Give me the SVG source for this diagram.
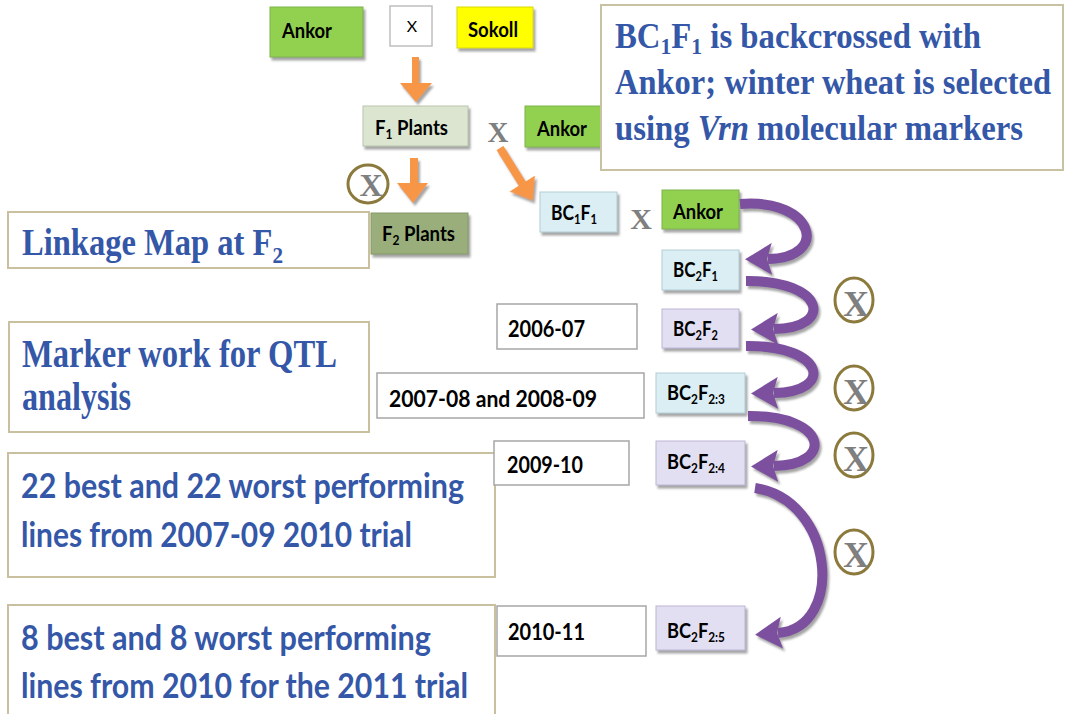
<svg xmlns="http://www.w3.org/2000/svg" width="1065" height="714" viewBox="0 0 1065 714">
<style>
  .lbl{font-family:Lato,"Liberation Sans",sans-serif;font-weight:700;font-size:20px;fill:#000}
  .yr{font-family:Lato,"Liberation Sans",sans-serif;font-weight:700;font-size:23px;fill:#000}
  .ser{font-family:"Liberation Serif","Times New Roman",serif;font-weight:700;fill:#3457a8}
  .cal{font-family:Lato,"Liberation Sans",sans-serif;font-weight:700;font-size:34px;fill:#3457a8}
  .xg{font-family:"Liberation Serif","Times New Roman",serif;font-weight:700;fill:#7f7f7f;text-anchor:middle}
  .sub{font-size:13px}
  .green{fill:#92d050;stroke:#7fb34a;stroke-width:1}
  .yellow{fill:#ffff00;stroke:#d8d800;stroke-width:1}
  .f1{fill:#dbe5d0;stroke:#b9c6ad;stroke-width:1}
  .f2{fill:#9aae7b;stroke:#869a68;stroke-width:1}
  .blue{fill:#daeef3;stroke:#b3cdd6;stroke-width:1}
  .lav{fill:#e3dff2;stroke:#bdb6d6;stroke-width:1}
  .year{fill:#fff;stroke:#a6a6a6;stroke-width:1.5}
  .tbox{fill:#fff;stroke:#c8c09e;stroke-width:2}
  .sh{filter:url(#shadow)}
  .circ{fill:#fff;stroke:#8c7a3c;stroke-width:3}
  .orange{fill:#f79646}
  .purple{fill:none;stroke:#7d509f;stroke-width:10;marker-end:url(#ph)}
</style>
<defs>
  <filter id="shadow" x="-10%" y="-10%" width="130%" height="140%">
    <feDropShadow dx="2" dy="3" stdDeviation="1" flood-color="#7f7f7f" flood-opacity="0.7"/>
  </filter>
  <marker id="ph" markerUnits="userSpaceOnUse" markerWidth="27" markerHeight="32" viewBox="0 0 27 32" refX="4" refY="16" orient="auto">
    <path d="M0,0 L27,16 L0,32 L5,16 z" fill="#7d509f"/>
  </marker>
</defs>

<g id="node-ankor1">
  <rect class="green sh" x="270" y="7" width="93" height="50"/>
  <text class="lbl" x="282" y="38" textLength="50" lengthAdjust="spacingAndGlyphs">Ankor</text>
</g>
<g id="node-x-top">
  <rect x="390" y="6" width="42" height="40" fill="#fff" stroke="#bfbfbf" stroke-width="1.5"/>
  <text x="412" y="32" font-family="Lato,'Liberation Sans',sans-serif" font-size="16" text-anchor="middle" fill="#000">X</text>
</g>
<g id="node-sokoll">
  <rect class="yellow sh" x="457" y="7" width="76" height="41"/>
  <text class="lbl" x="468" y="37" textLength="50" lengthAdjust="spacingAndGlyphs">Sokoll</text>
</g>
<g id="node-f1">
  <rect class="f1 sh" x="363" y="106" width="105" height="40"/>
  <text class="lbl" x="375" y="135" textLength="73" lengthAdjust="spacingAndGlyphs">F<tspan class="sub" dy="4">1</tspan><tspan dy="-4"> Plants</tspan></text>
</g>
<g id="label-x-f1">
  <text class="xg" x="498" y="142" font-size="29">X</text>
</g>
<g id="node-ankor2">
  <rect class="green sh" x="525" y="106" width="82" height="41"/>
  <text class="lbl" x="537" y="136" textLength="50" lengthAdjust="spacingAndGlyphs">Ankor</text>
</g>
<g id="callout">
  <rect x="601" y="5" width="462" height="165" fill="#fff" stroke="#c9c2a2" stroke-width="2"/>
  <text class="ser" x="615" y="48" font-size="35" textLength="366" lengthAdjust="spacingAndGlyphs">BC<tspan font-size="23" dy="6">1</tspan><tspan dy="-6">F</tspan><tspan font-size="23" dy="6">1</tspan><tspan dy="-6"> is backcrossed with</tspan></text>
  <text class="ser" x="615" y="94" font-size="35" textLength="436" lengthAdjust="spacingAndGlyphs">Ankor; winter wheat is selected</text>
  <text class="ser" x="615" y="140" font-size="35" textLength="408" lengthAdjust="spacingAndGlyphs">using <tspan font-style="italic">Vrn</tspan> molecular markers</text>
</g>
<g id="node-self-f1">
  <ellipse class="circ" cx="368" cy="184" rx="20" ry="19"/>
  <text class="xg" x="371" y="196" font-size="32">X</text>
</g>
<g id="node-linkage">
  <rect class="tbox" x="8" y="212" width="361" height="56"/>
  <text class="ser" x="22" y="255" font-size="37" textLength="261" lengthAdjust="spacingAndGlyphs">Linkage Map at F<tspan font-size="24" dy="8">2</tspan></text>
</g>
<g id="node-f2">
  <rect class="f2 sh" x="371" y="213" width="97" height="41"/>
  <text class="lbl" x="382" y="241" textLength="73" lengthAdjust="spacingAndGlyphs">F<tspan class="sub" dy="4">2</tspan><tspan dy="-4"> Plants</tspan></text>
</g>
<g id="node-bc1f1">
  <rect class="blue sh" x="540" y="192" width="77" height="40"/>
  <text class="lbl" x="551" y="220" textLength="46" lengthAdjust="spacingAndGlyphs">BC<tspan class="sub" dy="4">1</tspan><tspan dy="-4">F</tspan><tspan class="sub" dy="4">1</tspan></text>
</g>
<g id="label-x-bc1f1">
  <text class="xg" x="641" y="229" font-size="30">X</text>
</g>
<g id="node-ankor3">
  <rect class="green sh" x="662" y="190" width="77" height="39"/>
  <text class="lbl" x="673" y="219" textLength="50" lengthAdjust="spacingAndGlyphs">Ankor</text>
</g>
<g id="node-bc2f1">
  <rect class="blue sh" x="662" y="250" width="77" height="40"/>
  <text class="lbl" x="673" y="277" textLength="45" lengthAdjust="spacingAndGlyphs">BC<tspan class="sub" dy="4">2</tspan><tspan dy="-4">F</tspan><tspan class="sub" dy="4">1</tspan></text>
</g>
<g id="node-bc2f2">
  <rect class="lav sh" x="662" y="309" width="77" height="39"/>
  <text class="lbl" x="673" y="336" textLength="45" lengthAdjust="spacingAndGlyphs">BC<tspan class="sub" dy="4">2</tspan><tspan dy="-4">F</tspan><tspan class="sub" dy="4">2</tspan></text>
</g>
<g id="node-bc2f23">
  <rect class="blue sh" x="656" y="373" width="89" height="40"/>
  <text class="lbl" x="667" y="400" textLength="58" lengthAdjust="spacingAndGlyphs">BC<tspan class="sub" dy="4">2</tspan><tspan dy="-4">F</tspan><tspan class="sub" dy="4">2:3</tspan></text>
</g>
<g id="node-bc2f24">
  <rect class="lav sh" x="656" y="441" width="89" height="44"/>
  <text class="lbl" x="667" y="469" textLength="58" lengthAdjust="spacingAndGlyphs">BC<tspan class="sub" dy="4">2</tspan><tspan dy="-4">F</tspan><tspan class="sub" dy="4">2:4</tspan></text>
</g>
<g id="node-bc2f25">
  <rect class="lav sh" x="656" y="606" width="89" height="44"/>
  <text class="lbl" x="667" y="638" textLength="58" lengthAdjust="spacingAndGlyphs">BC<tspan class="sub" dy="4">2</tspan><tspan dy="-4">F</tspan><tspan class="sub" dy="4">2:5</tspan></text>
</g>
<g id="node-marker">
  <rect class="tbox" x="9" y="322" width="360" height="110"/>
  <text class="ser" x="22" y="367" font-size="39" textLength="315" lengthAdjust="spacingAndGlyphs">Marker work for QTL</text>
  <text class="ser" x="22" y="410" font-size="39" textLength="109" lengthAdjust="spacingAndGlyphs">analysis</text>
</g>
<g id="node-best22">
  <rect class="tbox" x="8" y="453" width="487" height="124"/>
  <text class="cal" x="21" y="498" textLength="443" lengthAdjust="spacingAndGlyphs">22 best and 22 worst performing</text>
  <text class="cal" x="21" y="547" textLength="391" lengthAdjust="spacingAndGlyphs">lines from 2007-09 2010 trial</text>
</g>
<g id="node-best8">
  <rect class="tbox" x="8" y="605" width="487" height="120"/>
  <text class="cal" x="21" y="650" textLength="410" lengthAdjust="spacingAndGlyphs">8 best and 8 worst performing</text>
  <text class="cal" x="21" y="698" textLength="447" lengthAdjust="spacingAndGlyphs">lines from 2010 for the 2011 trial</text>
</g>
<g id="node-y2006">
  <rect class="year" x="497" y="304" width="140" height="45"/>
  <text class="yr" x="508" y="337" textLength="77" lengthAdjust="spacingAndGlyphs">2006-07</text>
</g>
<g id="node-y2007">
  <rect class="year" x="377" y="373" width="267" height="45"/>
  <text class="yr" x="389" y="407" textLength="208" lengthAdjust="spacingAndGlyphs">2007-08 and 2008-09</text>
</g>
<g id="node-y2009">
  <rect class="year" x="494" y="441" width="135" height="44"/>
  <text class="yr" x="507" y="473" textLength="76" lengthAdjust="spacingAndGlyphs">2009-10</text>
</g>
<g id="node-y2010">
  <rect class="year" x="497" y="606" width="149" height="50"/>
  <text class="yr" x="508" y="640" textLength="77" lengthAdjust="spacingAndGlyphs">2010-11</text>
</g>
<g id="node-self-1">
  <ellipse class="circ" cx="854" cy="300" rx="19" ry="22"/>
  <text class="xg" x="856" y="316" font-size="36">X</text>
</g>
<g id="node-self-2">
  <ellipse class="circ" cx="854" cy="388" rx="19" ry="22"/>
  <text class="xg" x="856" y="404" font-size="36">X</text>
</g>
<g id="node-self-3">
  <ellipse class="circ" cx="854" cy="455" rx="19" ry="22"/>
  <text class="xg" x="856" y="471" font-size="36">X</text>
</g>
<g id="node-self-4">
  <ellipse class="circ" cx="854" cy="552" rx="19" ry="22"/>
  <text class="xg" x="856" y="567" font-size="36">X</text>
</g>

<g id="connectors">
  <g class="sh">
    <path class="orange" d="M412,57 H419 V83 H432 L416,102 L400,83 H412 Z"/>
    <path class="orange" d="M410,158 H418 V183 H428 L413,203 L397,183 H410 Z"/>
    <path class="orange" transform="translate(500,148) rotate(-32)" d="M-4,0 H4 V42 H15 L0,62 L-15,42 H-4 Z"/>
  </g>
  <g class="sh">
    <path class="purple" d="M740,204 C815,198 830,258 768,259"/>
    <path class="purple" d="M746,281 C825,280 835,328 774,329"/>
    <path class="purple" d="M746,346 C825,345 835,392 774,393"/>
    <path class="purple" d="M748,416 C828,415 835,465 774,466"/>
    <path class="purple" d="M755,488 C835,500 845,628 778,633"/>
  </g>
</g>
</svg>
